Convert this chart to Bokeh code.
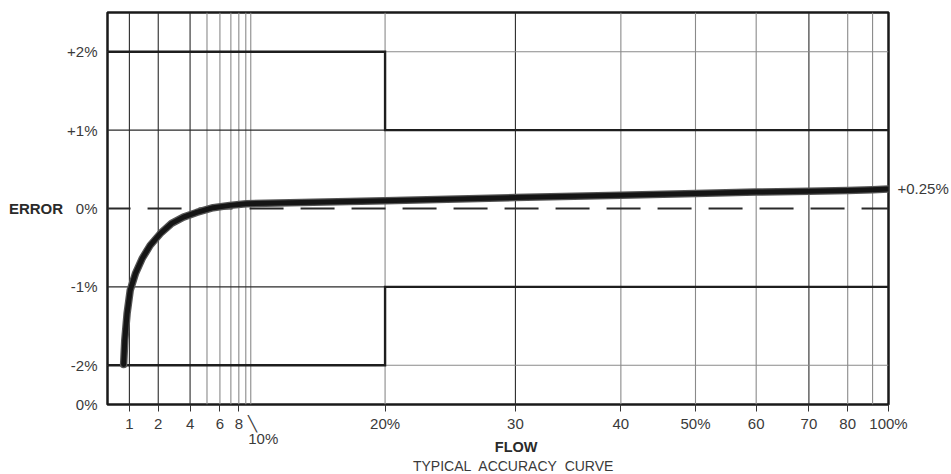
import numpy as np
from bokeh.plotting import figure
from bokeh.models import Range1d, FixedTicker, LinearAxis, Title
from bokeh.embed import file_html
from bokeh.resources import INLINE

# ---- data ----
curve_flow = [0.80, 0.84, 0.92, 1.03, 1.21, 1.44, 1.72, 2.13, 2.84, 3.58, 4.39, 5.48, 6.91, 9.1,
              20, 30, 40, 50, 60, 70, 80, 90, 100]
curve_err = [-1.99, -1.68, -1.34, -1.04, -0.83, -0.64, -0.47, -0.32, -0.19, -0.11, -0.05, 0.01,
             0.04, 0.06, 0.10, 0.14, 0.17, 0.19, 0.21, 0.22, 0.23, 0.24, 0.25]

upper_flow = [0.24, 20, 20, 100]
upper_err = [2, 2, 1, 1]
lower_flow = [0.24, 20, 20, 100]
lower_err = [-2, -2, -1, -1]

zero_err = [0, 0]

tick_flows = [1, 2, 4, 6, 8, 10, 20, 30, 40, 50, 60, 70, 80, 100]
tick_labels = ["1", "2", "4", "6", "8", "\u00a0\u2572\n\u00a0\u00a0\u00a0\u00a0\u00a0\u00a010%", "20%", "30",
               "40", "50%", "60", "70", "80", "100%"]
tick_mark_flows = [1, 2, 4, 6, 8, 20, 30, 40, 50, 60, 70, 80, 100]
grid_flows = [1, 2, 4, 5, 6, 7, 8, 9, 10, 20, 30, 40, 50, 60, 70, 80, 90]
grid_dark = [1, 2, 4, 30, 70]
y_ticks = [-2.5, -2, -1, 0, 1, 2]
y_labels = ["0%", "-2%", "-1%", "0%", "+1%", "+2%"]
y_grid = [-2, -1, 1, 2]
y_grid_dark = [-1, 1]
end_value = [0.25]
end_label = ["+0.25%"]

# ---- the chart's custom (non-uniform) flow scale ----
SCALE_FLOW = [0.24, 1, 2, 4, 5, 6, 7, 8, 9, 10, 20, 30, 40, 50, 60, 70, 80, 90, 100]
SCALE_POS = [0, 22, 51, 83, 100, 113, 124, 132, 139, 144, 279, 410, 516, 591, 652, 705, 744, 769, 785]


def fx(v):
    return np.interp(np.asarray(v, dtype=float), SCALE_FLOW, SCALE_POS)


FONT = "Liberation Sans"
TXT = "#3a3a3a"
FS = "15px"

xr = Range1d(0, 785)
p = figure(width=951, height=474, x_range=xr, y_range=Range1d(-2.5, 2.5),
           output_backend="svg", toolbar_location=None,
           min_border_left=107, min_border_right=59, min_border_top=12, min_border_bottom=70)
p.xgrid.visible = False
p.ygrid.visible = False
p.outline_line_color = "#1a1a1a"
p.outline_line_width = 2.5
p.background_fill_color = "white"
p.border_fill_color = "white"

# grid lines
gx = fx(grid_flows)
p.segment(x0=gx, y0=[-2.5] * len(gx), x1=gx, y1=[2.5] * len(gx),
          line_color=["#2a2a2a" if f in grid_dark else "#8a8a8a" for f in grid_flows],
          line_width=1.1)
p.segment(x0=[0] * len(y_grid), y0=y_grid, x1=[785] * len(y_grid), y1=y_grid,
          line_color=["#2a2a2a" if g in y_grid_dark else "#8a8a8a" for g in y_grid],
          line_width=1.1)

# zero dashed line (starts a little left of the frame to set the dash phase)
DASH_PHASE = 11
p.line([xr.start - DASH_PHASE, xr.end], zero_err, line_color="#2a2a2a", line_width=2.2,
       line_dash="34 17")

# tolerance band
p.line(fx(upper_flow), upper_err, line_color="#1e1e1e", line_width=2.4, line_join="miter")
p.line(fx(lower_flow), lower_err, line_color="#1e1e1e", line_width=2.4, line_join="miter")

# accuracy curve
cx = fx(curve_flow)
p.line(cx, curve_err, line_color="#555555", line_width=7.5, line_join="round", line_cap="round")
p.line(cx, curve_err, line_color="#151515", line_width=5, line_join="round", line_cap="round")

# x axis
xa = p.xaxis[0]
tpos = [int(v) for v in fx(tick_flows)]
mpos = [int(v) for v in fx(tick_mark_flows)]
xa.ticker = FixedTicker(ticks=tpos, minor_ticks=mpos)
xa.major_label_overrides = {t: l for t, l in zip(tpos, tick_labels)}
xa.axis_line_color = None
xa.major_tick_line_color = None
xa.major_tick_in = 0
xa.major_tick_out = 0
xa.minor_tick_line_color = "#333333"
xa.minor_tick_in = 0
xa.minor_tick_out = 7
xa.major_label_standoff = 3
xa.major_label_text_font = FONT
xa.major_label_text_font_size = FS
xa.major_label_text_color = TXT
xa.major_label_text_line_height = 0.9
xa.axis_label = "\u00a0" * 9 + "FLOW"
xa.axis_label_standoff = -11
xa.axis_label_text_font = FONT
xa.axis_label_text_font_size = "14.5px"
xa.axis_label_text_font_style = "bold"
xa.axis_label_text_color = "#2a2a2a"

# y axis
ya = p.yaxis[0]
ya.ticker = FixedTicker(ticks=y_ticks)
ya.major_label_overrides = {(int(t) if float(t).is_integer() else t): l for t, l in zip(y_ticks, y_labels)}
ya.axis_line_color = None
ya.major_tick_line_color = None
ya.minor_tick_line_color = None
ya.major_label_standoff = 4
ya.major_label_text_font = FONT
ya.major_label_text_font_size = FS
ya.major_label_text_color = TXT
ya.axis_label = "ERROR"
ya.axis_label_orientation = "horizontal"
ya.axis_label_standoff = 1
ya.axis_label_text_font = FONT
ya.axis_label_text_font_size = "15px"
ya.axis_label_text_font_style = "bold"
ya.axis_label_text_color = "#2a2a2a"

# right axis carrying the end value
ra = LinearAxis(ticker=FixedTicker(ticks=end_value))
ra.major_label_overrides = {end_value[0]: end_label[0]}
ra.axis_line_color = None
ra.major_tick_line_color = None
ra.minor_tick_line_color = None
ra.major_label_standoff = 3
ra.major_label_text_font = FONT
ra.major_label_text_font_size = FS
ra.major_label_text_color = TXT
p.add_layout(ra, "right")

# subtitle
p.add_layout(Title(text="\u00a0" * 8 + "TYPICAL\u00a0 ACCURACY\u00a0 CURVE", align="center", standoff=-3,
                   text_font=FONT, text_font_size="14px", text_font_style="normal",
                   text_color=TXT), "below")

open("out.html", "w").write(file_html(p, INLINE))
